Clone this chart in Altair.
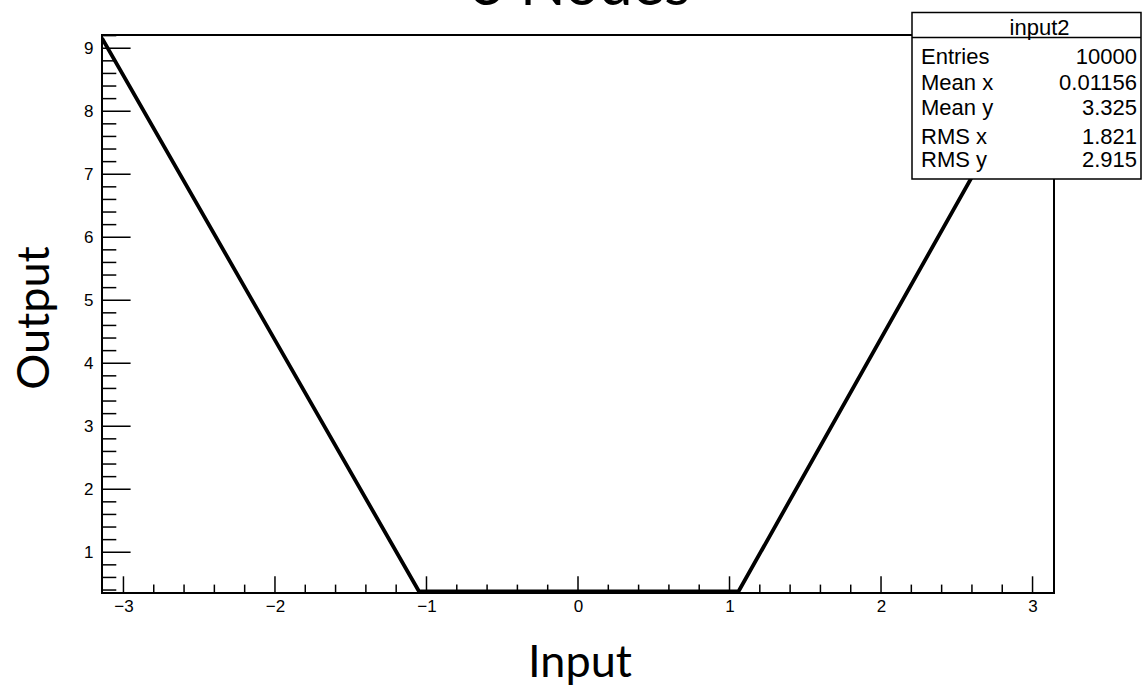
import math

import altair as alt
import pandas as pd

# Network output sampled over the input range (vertices of the response curve)
input_x = [-math.pi, -1.05, 1.06, math.pi]
output_y = [9.16, 0.38, 0.38, 9.27]

# Axis tick positions
x_major = [-3, -2, -1, 0, 1, 2, 3]
x_minor = [k / 5 for k in range(-15, 16) if k % 5]
y_major = [1, 2, 3, 4, 5, 6, 7, 8, 9]
y_minor = [k / 5 for k in range(2, 47) if k % 5]

# Statistics box contents
hist_name = "input2"
stat_names = ["Entries", "Mean x", "Mean y", "RMS x", "RMS y"]
stat_values = ["10000", "0.01156", "3.325", "1.821", "2.915"]

title_text = "3 Nodes"
x_title = "Input"
y_title = "Output"

# ---- layout -------------------------------------------------------------
W, H = 952, 558
PAD = {"left": 102, "top": 35, "right": 1143 - 102 - W, "bottom": 688 - 35 - H}
X_DOM = [-math.pi, math.pi]
Y_DOM = [0.353, 9.21]
MAJOR_X_LEN, MINOR_X_LEN = 16.7, 8.4
MAJOR_Y_LEN, MINOR_Y_LEN = 28.6, 14.3
LABEL_FONT = "Liberation Sans"
TITLE_FONT = "Lato"

x_scale = alt.Scale(domain=X_DOM, nice=False, zero=False)
y_scale = alt.Scale(domain=Y_DOM, nice=False, zero=False)

x_axis = alt.Axis(
    values=x_major, ticks=False, domain=False, grid=False, title=None,
    labelFont=LABEL_FONT, labelFontSize=17, labelColor="black",
    labelPadding=5, labelOverlap=False,
)
y_axis = alt.Axis(
    values=y_major, ticks=False, domain=False, grid=False, title=None,
    labelFont=LABEL_FONT, labelFontSize=17, labelColor="black",
    labelPadding=9, labelOverlap=False,
)

curve = pd.DataFrame({"x": input_x, "y": output_y})

response = alt.Chart(curve).mark_line(
    color="black", strokeWidth=3.8, clip=True
).encode(
    x=alt.X("x:Q", scale=x_scale, axis=x_axis),
    y=alt.Y("y:Q", scale=y_scale, axis=y_axis),
)


def x_ticks(values, length):
    return alt.Chart(pd.DataFrame({"x": values})).mark_rule(
        color="black", strokeWidth=1.5
    ).encode(
        x=alt.X("x:Q", scale=x_scale, axis=x_axis),
        y=alt.value(H),
        y2=alt.value(H - length),
    )


def y_ticks(values, length):
    return alt.Chart(pd.DataFrame({"y": values})).mark_rule(
        color="black", strokeWidth=1.5
    ).encode(
        y=alt.Y("y:Q", scale=y_scale, axis=y_axis),
        x=alt.value(0),
        x2=alt.value(length),
    )


def label(text, x, y, **kw):
    return alt.Chart(pd.DataFrame({"t": [text]})).mark_text(**kw).encode(
        text="t:N", x=alt.value(x), y=alt.value(y)
    )


# Statistics box
BOX_L, BOX_R, BOX_T, BOX_B, BOX_SEP = 810, 1039, -22.5, 144, 2.5
ROW_Y = [21.5, 48, 72.5, 102, 125]
STAT_FONT = 22

box = alt.Chart(pd.DataFrame({"t": [0]})).mark_rect(
    fill="white", stroke="black", strokeWidth=1.5
).encode(
    x=alt.value(BOX_L), x2=alt.value(BOX_R),
    y=alt.value(BOX_T), y2=alt.value(BOX_B),
)
box_sep = alt.Chart(pd.DataFrame({"t": [0]})).mark_rule(
    color="black", strokeWidth=1.5
).encode(x=alt.value(BOX_L), x2=alt.value(BOX_R), y=alt.value(BOX_SEP))

stat_layers = [
    label(hist_name, (BOX_L + BOX_R) / 2 + 13, -7, font=LABEL_FONT,
          fontSize=STAT_FONT, align="center", baseline="middle", color="black")
]
for name, value, ry in zip(stat_names, stat_values, ROW_Y):
    stat_layers.append(label(name, BOX_L + 9, ry, font=LABEL_FONT,
                             fontSize=STAT_FONT, align="left",
                             baseline="middle", color="black"))
    stat_layers.append(label(value, BOX_R - 4, ry, font=LABEL_FONT,
                             fontSize=STAT_FONT, align="right",
                             baseline="middle", color="black"))

titles = [
    label(title_text, W / 2 + 2, -30, font=TITLE_FONT, fontSize=60,
          align="center", baseline="alphabetic", color="black"),
    label(x_title, W / 2 + 2, 642, font=TITLE_FONT, fontSize=45,
          align="center", baseline="alphabetic", color="black"),
    label(y_title, -53, 283, font=TITLE_FONT, fontSize=45, angle=270,
          align="center", baseline="alphabetic", color="black"),
]

chart = alt.layer(
    response,
    x_ticks(x_major, MAJOR_X_LEN),
    x_ticks(x_minor, MINOR_X_LEN),
    y_ticks(y_major, MAJOR_Y_LEN),
    y_ticks(y_minor, MINOR_Y_LEN),
    box,
    box_sep,
    *stat_layers,
    *titles,
).properties(
    width=W,
    height=H,
    padding=PAD,
    autosize=alt.AutoSizeParams(type="none"),
    background="white",
).configure_view(
    stroke="black", strokeWidth=2
)

chart.save("out.html", embed_options={"renderer": "svg", "actions": False})
